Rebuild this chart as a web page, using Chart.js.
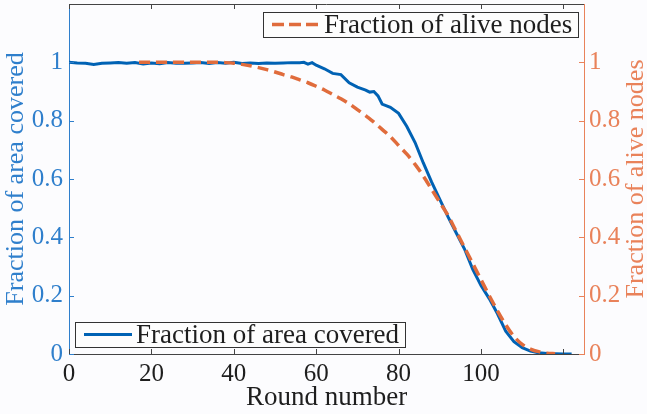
<!DOCTYPE html>
<html>
<head>
<meta charset="utf-8">
<script src="https://cdn.jsdelivr.net/npm/chart.js@4.4.1/dist/chart.umd.min.js"></script>
<style>
html,body{margin:0;padding:0;background:#fcfcfe;}
</style>
</head>
<body>
<canvas id="cobertura" width="647" height="414"></canvas>
<script>
// fraction of area covered, per round
var areaRounds = [0,2,4,6,8,10,12,14,16,18,20,22,24,26,28,30,32,34,36,38,40,42,44,46,48,50,52,54,56,57,58,59,60,62,64,66,68,70,72,73,74,75,76,78,80,82,84,86,88,90,92,94,96,98,100,102,104,106,108,110,112,114,116,118,120,122];
var areaCovered = [1,0.998,0.997,0.993,0.997,0.998,0.999,0.997,0.999,0.994,0.998,0.995,0.999,0.997,0.997,0.998,0.999,0.996,0.999,0.997,1,0.996,0.998,0.996,0.998,0.997,0.998,0.999,0.999,1,0.994,0.999,0.99,0.978,0.962,0.958,0.93,0.915,0.905,0.898,0.9,0.885,0.857,0.846,0.825,0.78,0.725,0.655,0.59,0.53,0.47,0.415,0.36,0.29,0.235,0.19,0.138,0.078,0.042,0.022,0.01,0.004,0.002,0.001,0,0];

// fraction of alive nodes, per round
var aliveRounds = [17,20,24,28,32,36,38,40,42,44,46,48,50,52,54,56,58,60,62,64,66,68,70,72,74,76,78,80,82,84,86,88,90,92,94,96,98,100,102,104,106,108,110,112,114,116,118];
var aliveNodes = [1,1,1,1,1,1,0.999,0.997,0.993,0.988,0.982,0.975,0.967,0.958,0.95,0.94,0.93,0.918,0.905,0.89,0.875,0.858,0.838,0.817,0.795,0.77,0.745,0.715,0.685,0.65,0.61,0.565,0.52,0.475,0.42,0.365,0.31,0.255,0.2,0.148,0.1,0.06,0.033,0.017,0.008,0.003,0.001];

var xTicks = [0,20,40,60,80,100,120];
var yTicks = [0,0.2,0.4,0.6,0.8,1];

var fuente = "'Liberation Serif', serif";
var azul = "#0062b4", azulEje = "#2f7fcc";
var naranja = "#e06c3c", naranjaEje = "#e9825a";

function puntos(xs, ys) {
  return xs.map(function(x, i) { return {x: x, y: ys[i]}; });
}

function linea(ctx, x1, y1, x2, y2) {
  ctx.beginPath(); ctx.moveTo(x1, y1); ctx.lineTo(x2, y2); ctx.stroke();
}

// inside tick marks, top frame line, right title and the two legend boxes
var marcos = {
  id: "marcos",
  afterDraw: function(chart) {
    var ctx = chart.ctx, a = chart.chartArea;
    var sx = chart.scales.x, sy = chart.scales.y, sy2 = chart.scales.y2;
    ctx.save();
    ctx.lineWidth = 1;

    ctx.strokeStyle = "#444";
    linea(ctx, a.left, a.top + 0.5, a.right, a.top + 0.5);
    xTicks.forEach(function(v) {
      var px = Math.round(sx.getPixelForValue(v)) + 0.5;
      linea(ctx, px, a.bottom, px, a.bottom - 5);
      linea(ctx, px, a.top, px, a.top + 5);
    });
    ctx.strokeStyle = azulEje;
    yTicks.forEach(function(v) {
      var py = Math.round(sy.getPixelForValue(v)) + 0.5;
      linea(ctx, a.left, py, a.left + 5, py);
    });
    ctx.strokeStyle = naranjaEje;
    yTicks.forEach(function(v) {
      var py = Math.round(sy2.getPixelForValue(v)) + 0.5;
      linea(ctx, a.right, py, a.right - 5, py);
    });

    // right axis title, reading upwards
    ctx.save();
    ctx.translate(636, (a.top + a.bottom) / 2);
    ctx.rotate(-Math.PI / 2);
    ctx.fillStyle = naranjaEje;
    ctx.font = "26px " + fuente;
    ctx.textAlign = "center";
    ctx.textBaseline = "middle";
    ctx.fillText(chart.options.scales.y2.title.text, 0, 0);
    ctx.restore();

    var ds = chart.data.datasets;
    leyenda(ctx, ds[1], 263, 12, 315, 25);
    leyenda(ctx, ds[0], 75, 322, 330, 25);
    ctx.restore();
  }
};

function leyenda(ctx, d, x, y, w, h) {
  ctx.fillStyle = "#fdfdfd";
  ctx.fillRect(x, y, w, h);
  ctx.strokeStyle = "#333";
  ctx.lineWidth = 1;
  ctx.setLineDash([]);
  ctx.strokeRect(x + 0.5, y + 0.5, w, h);
  ctx.strokeStyle = d.borderColor;
  ctx.lineWidth = d.borderWidth;
  ctx.setLineDash(d.borderDash ? [12, 5] : []);
  linea(ctx, x + 9, y + h / 2, x + 57, y + h / 2);
  ctx.setLineDash([]);
  ctx.fillStyle = "#1e1e1e";
  ctx.font = "27px " + fuente;
  ctx.textAlign = "left";
  ctx.textBaseline = "alphabetic";
  ctx.fillText(d.label, x + 61, y + h - 4);
}

// fixed box sizes so the plot area lands at 69..584 x 4..354
function anchoFijo(w) {
  return function(s) { s.width = w; s.paddingTop = 0; s.paddingBottom = 0; };
}

var cobertura = document.getElementById("cobertura").getContext("2d");

var chart = new Chart(cobertura, {
  type: "line",
  data: {
    datasets: [
      {
        label: "Fraction of area covered",
        data: puntos(areaRounds, areaCovered),
        borderColor: azul,
        borderWidth: 3,
        pointRadius: 0,
        tension: 0,
        yAxisID: "y",
        order: 2
      },
      {
        label: "Fraction of alive nodes",
        data: puntos(aliveRounds, aliveNodes),
        borderColor: naranja,
        borderWidth: 3.5,
        borderDash: [11, 6],
        pointRadius: 0,
        tension: 0.3,
        yAxisID: "y2",
        order: 1
      }
    ]
  },
  options: {
    responsive: false,
    animation: false,
    layout: { padding: { top: 4, left: 0, right: 0, bottom: 0 } },
    plugins: { legend: { display: false }, tooltip: { enabled: false } },
    scales: {
      x: {
        type: "linear",
        min: 0,
        max: 125,
        afterFit: function(s) { s.height = 60; s.paddingLeft = 0; s.paddingRight = 0; },
        grid: { display: false, drawTicks: false },
        border: { color: "#444", width: 1 },
        ticks: {
          stepSize: 20,
          padding: 5,
          maxRotation: 0,
          color: "#1e1e1e",
          font: { family: fuente, size: 25 },
          callback: function(v) { return v % 20 === 0 ? v : ""; }
        },
        title: {
          display: true,
          text: "Round number",
          color: "#1e1e1e",
          font: { family: fuente, size: 27 },
          padding: { top: 0, bottom: 0 }
        }
      },
      y: {
        position: "left",
        min: 0,
        max: 1.2,
        afterFit: anchoFijo(69),
        grid: { display: false, drawTicks: false },
        border: { color: azulEje, width: 1 },
        ticks: {
          stepSize: 0.2,
          padding: 6,
          color: azulEje,
          font: { family: fuente, size: 25 },
          callback: function(v) { return v > 1.01 ? "" : String(Math.round(v * 10) / 10); }
        },
        title: {
          display: true,
          text: "Fraction of area covered",
          color: azulEje,
          font: { family: fuente, size: 26 },
          padding: { top: 1, bottom: 0 }
        }
      },
      y2: {
        position: "right",
        min: 0,
        max: 1.2,
        afterFit: anchoFijo(63),
        grid: { display: false, drawTicks: false },
        border: { color: naranjaEje, width: 1 },
        ticks: {
          stepSize: 0.2,
          padding: 5,
          color: naranjaEje,
          font: { family: fuente, size: 25 },
          callback: function(v) { return v > 1.01 ? "" : String(Math.round(v * 10) / 10); }
        },
        title: { display: false, text: "Fraction of alive nodes" }
      }
    }
  },
  plugins: [marcos]
});
</script>
</body>
</html>
